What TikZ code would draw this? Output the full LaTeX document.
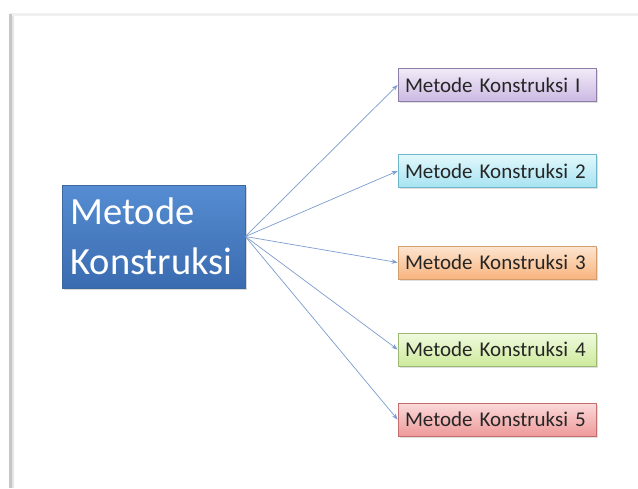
\documentclass[tikz,border=0pt]{standalone}
\usepackage{fontspec}
\setmainfont{Carlito}
\usetikzlibrary{arrows.meta,shadows}
\definecolor{arrowc}{HTML}{7D9CCF}
\definecolor{mainT}{HTML}{568DD2}
\definecolor{mainB}{HTML}{3A6BB0}
\definecolor{mainD}{HTML}{3D679E}
\definecolor{pT}{HTML}{F1EBF8}\definecolor{pB}{HTML}{CBB8E2}\definecolor{pD}{HTML}{8E7FA8}
\definecolor{cT}{HTML}{E2F8FC}\definecolor{cB}{HTML}{A6E3F1}\definecolor{cD}{HTML}{6FB6C8}
\definecolor{oT}{HTML}{FDE5D0}\definecolor{oB}{HTML}{F8B47E}\definecolor{oD}{HTML}{D39E6E}
\definecolor{gT}{HTML}{F1FADF}\definecolor{gB}{HTML}{CDEA9C}\definecolor{gD}{HTML}{9DB872}
\definecolor{rT}{HTML}{FBDADA}\definecolor{rB}{HTML}{EE9999}\definecolor{rD}{HTML}{C46E6E}
\tikzset{
  mainbox/.style={draw=mainD, line width=0.8pt, top color=mainT, bottom color=mainB,
    minimum width=183pt, minimum height=103pt, text width=166pt, inner xsep=8.5pt,
    align=left, text=white, font=\fontsize{38.5}{50}\selectfont,
    drop shadow={shadow xshift=2pt, shadow yshift=-2pt, opacity=0.3}},
  subbox/.style={line width=0.8pt, minimum width=198pt, minimum height=33pt,
    text width=184pt, inner xsep=7pt, align=left, text=black!85,
    font=\fontsize{21}{24}\selectfont,
    drop shadow={shadow xshift=1.5pt, shadow yshift=-1.5pt, opacity=0.25}},
  conn/.style={draw=arrowc, line width=0.7pt, -{Stealth[length=6pt,width=4.5pt]}}
}
\begin{document}
\begin{tikzpicture}[x=1pt,y=-1pt]
\useasboundingbox (0,0) rectangle (638,488);
\fill[white] (0,0) rectangle (638,488);
% page frame
\fill[gray!12] (10,13) rectangle (638,16);
\fill[gray!45] (9,14) rectangle (12,488);
\fill[gray!20] (12,16) rectangle (14,488);
\fill[white] (14,17) rectangle (638,488);
% nodes
\node[mainbox] (m) at (153.5,236.5) {Metode\\Konstruksi};
\node[subbox, draw=pD, top color=pT, bottom color=pB] (b1) at (497,85) {Metode Konstruksi I};
\node[subbox, draw=cD, top color=cT, bottom color=cB] (b2) at (497,171) {Metode Konstruksi 2};
\node[subbox, draw=oD, top color=oT, bottom color=oB] (b3) at (497,262.5) {Metode Konstruksi 3};
\node[subbox, draw=gD, top color=gT, bottom color=gB] (b4) at (497,349.5) {Metode Konstruksi 4};
\node[subbox, draw=rD, top color=rT, bottom color=rB] (b5) at (497,419.5) {Metode Konstruksi 5};
% connectors
\foreach \b in {b1,b2,b3,b4,b5}
  \draw[conn] (m.east) -- (\b.west);
\end{tikzpicture}
\end{document}
